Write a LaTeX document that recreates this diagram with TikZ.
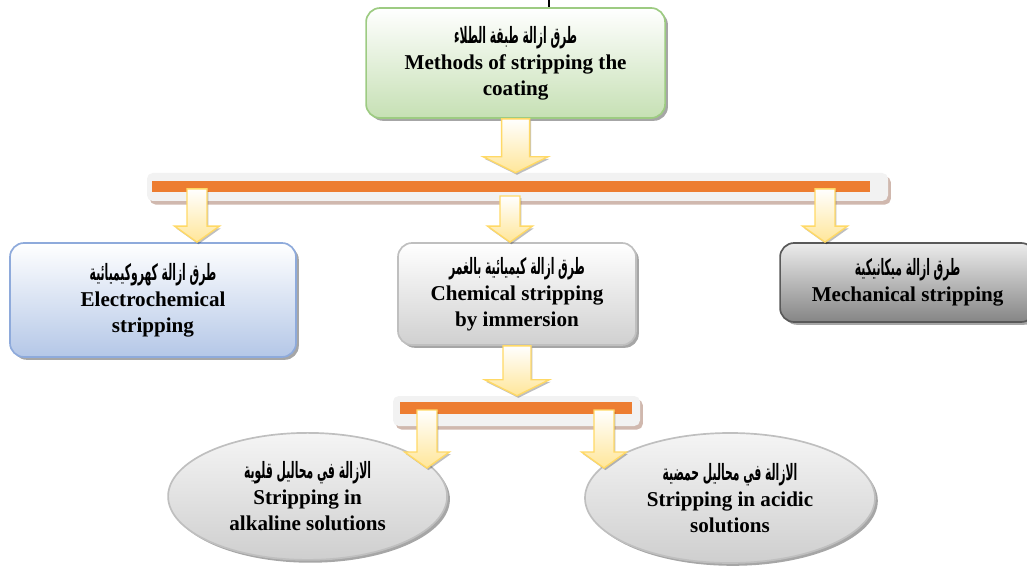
\documentclass[tikz,border=0pt]{standalone}
\usepackage{fontspec}
\setmainfont{Liberation Serif}
\newfontfamily\arabicfont[Script=Arabic,FakeStretch=0.48]{DejaVu Sans Bold}
\TeXXeTstate=1
\usetikzlibrary{shadows,calc,shapes.geometric}

\definecolor{greenline}{HTML}{9DCB82}
\definecolor{greenfill}{HTML}{C6E0B4}
\definecolor{blueline}{HTML}{8EAADB}
\definecolor{bluefill}{HTML}{B4C7E7}
\definecolor{grayline}{HTML}{BFBFBF}
\definecolor{grayfill}{HTML}{D0D0D0}
\definecolor{darkline}{HTML}{595959}
\definecolor{darkfill}{HTML}{858585}
\definecolor{arrowline}{HTML}{FFD966}
\definecolor{arrowfill}{HTML}{FFE699}
\definecolor{barorange}{HTML}{ED7D31}
\definecolor{barback}{HTML}{F2F2F2}
\definecolor{barshadow}{HTML}{B08878}

\newcommand{\artext}[1]{{\arabicfont\fontsize{16}{19}\selectfont\beginR #1\endR}}

\tikzstyle{box} = [rounded corners=10pt, align=center, line width=1.2pt, inner sep=2pt,
    font=\bfseries\fontsize{15}{18.5}\selectfont,
    drop shadow={shadow xshift=2pt, shadow yshift=-2pt, fill=black, opacity=0.35}]
\tikzstyle{greenbox} = [box, draw=greenline, top color=white, bottom color=greenfill]
\tikzstyle{bluebox} = [box, draw=blueline, top color=white, bottom color=bluefill]
\tikzstyle{graybox} = [box, draw=grayline, top color=white, bottom color=grayfill]
\tikzstyle{darkbox} = [box, draw=darkline, top color=gray!15, bottom color=darkfill]
\tikzstyle{oval} = [box, ellipse, rounded corners=0pt, inner sep=0pt, draw=grayline,
    top color=gray!8, bottom color=gray!38]
\tikzstyle{barbg} = [fill=barback, rounded corners=4pt, inner sep=0pt,
    drop shadow={shadow xshift=2pt, shadow yshift=-2.5pt, fill=barshadow, opacity=0.6}]
\tikzstyle{bar} = [fill=barorange, inner sep=0pt]

\tikzset{
  blockarrow/.style n args={3}{draw=arrowline, line width=1pt, top color=white, bottom color=arrowfill,
    drop shadow={shadow xshift=1pt, shadow yshift=-1.5pt, fill=black, opacity=0.25},
    to path={let \p1=(\tikztostart), \p2=(\tikztotarget) in
      (\x1-#1,\y1) -- (\x1+#1,\y1) -- (\x1+#1,\y2+#3) -- (\x1+#2,\y2+#3)
      -- (\x1,\y2) -- (\x1-#2,\y2+#3) -- (\x1-#1,\y2+#3) -- cycle}},
  bigarrow/.style={blockarrow={0.35cm}{0.81cm}{0.4cm}},
  smallarrow/.style={blockarrow={0.25cm}{0.56cm}{0.4cm}}
}

\begin{document}
\begin{tikzpicture}
\useasboundingbox (0,0) rectangle (25.675,-14.175);
%line on top
\coordinate (lt) at (13.72,0);
\coordinate (lb) at (13.72,-0.42);
\draw[line width=1pt] (lt) -- (lb);
%begin level0
\node[greenbox, minimum width=7.475cm, minimum height=2.75cm] (top) at (12.89,-1.575)
    {\artext{طرق ازالة طبقة الطلاء}\\Methods of stripping the\\coating};
%end level0
%begin bar1
\node[barbg, minimum width=18.525cm, minimum height=0.7cm] (bg1) at (12.9375,-4.675) {};
\node[bar, minimum width=17.95cm, minimum height=0.275cm] (bar1) at (12.775,-4.6625) {};
%end bar1
%begin level1
\node[bluebox, minimum width=7.15cm, minimum height=2.85cm] (left) at (3.825,-7.5)
    {\artext{طرق ازالة كهروكيميائية}\\Electrochemical\\stripping};
\node[graybox, minimum width=5.95cm, minimum height=2.55cm] (mid) at (12.925,-7.35)
    {\artext{طرق ازالة كيميائية بالغمر}\\Chemical stripping\\by immersion};
\node[darkbox, minimum width=6.375cm, minimum height=1.975cm] (right) at (22.69,-7.0625)
    {\artext{طرق ازالة ميكانيكية}\\Mechanical stripping};
%end level1
%begin bar2
\node[barbg, minimum width=6.175cm, minimum height=0.75cm] (bg2) at (12.9125,-10.275) {};
\node[bar, minimum width=5.8cm, minimum height=0.3cm] (bar2) at (12.9,-10.2) {};
%end bar2
%begin level2
\node[oval, minimum width=6.975cm, minimum height=3.175cm] (alkaline) at (7.69,-12.41)
    {\artext{الازالة في محاليل قلوية}\\Stripping in\\alkaline solutions};
\node[oval, minimum width=7.25cm, minimum height=3.25cm] (acidic) at (18.25,-12.45)
    {\artext{الازالة في محاليل حمضية}\\Stripping in acidic\\solutions};
%end level2
%begin arrows
\coordinate (s1) at (4.925,-4.72);
\coordinate (s2) at (12.75,-4.9);
\coordinate (s3) at (20.625,-4.72);
\coordinate (s4) at (10.675,-10.25);
\coordinate (s5) at (15.1,-10.25);
\coordinate (e4) at (10.675,-11.7);
\coordinate (e5) at (15.1,-11.7);
\draw[bigarrow] (top.south) to (bg1.north);
\draw[smallarrow] (s1) to (s1 |- left.north);
\draw[smallarrow] (s2) to (s2 |- mid.north);
\draw[smallarrow] (s3) to (s3 |- right.north);
\draw[bigarrow] (mid.south) to (bg2.north);
\draw[smallarrow] (s4) to (e4);
\draw[smallarrow] (s5) to (e5);
%end arrows
\end{tikzpicture}
\end{document}
